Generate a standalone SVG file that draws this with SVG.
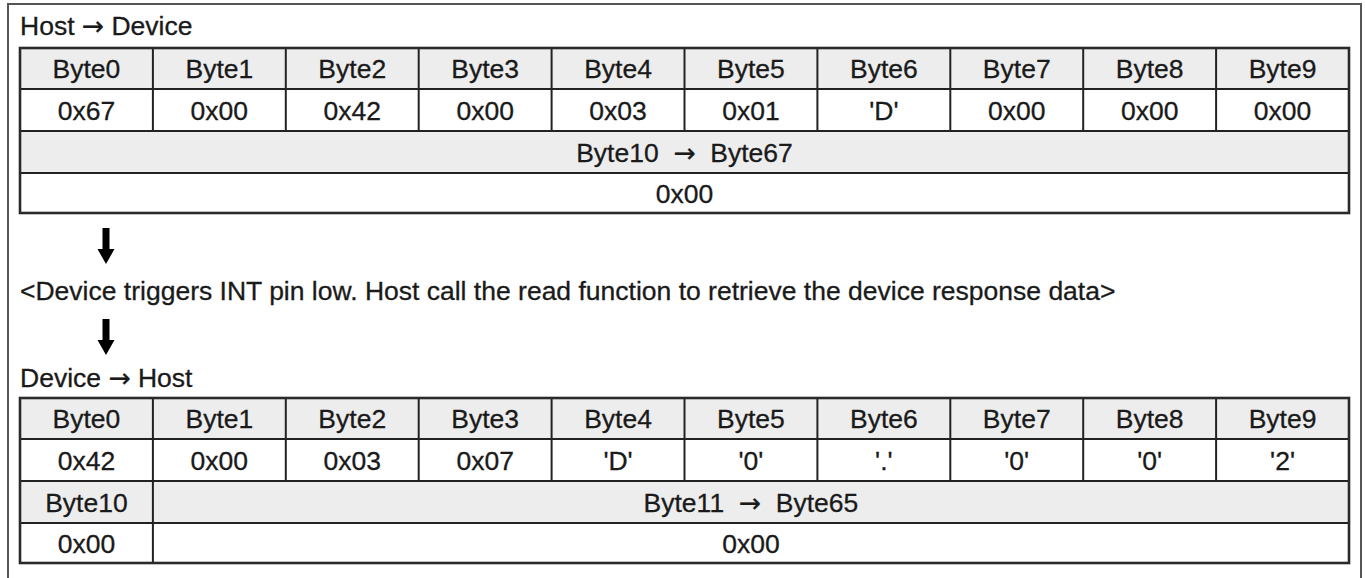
<svg xmlns="http://www.w3.org/2000/svg" xmlns:xlink="http://www.w3.org/1999/xlink" width="1365" height="578" viewBox="0 0 1365 578">
<style>
text{font-family:"Liberation Sans",Arial,sans-serif;font-size:26.5px;fill:#1a1a1a;stroke:#1a1a1a;stroke-width:0.3}
.c{text-anchor:middle}
.ar{font-family:"DejaVu Sans",sans-serif}
.hd{fill:#ededed}
.bd{fill:#ffffff}
.ln{stroke:#222;stroke-width:2;fill:none}
.ob{stroke:#2a2a2a;stroke-width:2.6;fill:none}
.frame{stroke:#555;stroke-width:2;fill:#fff}
</style>
<defs>
<path id="darrow" d="M102.5 0 H109.5 V21 H114.5 L106 36 L97.5 21 H102.5 Z" fill="#000"/>
</defs>
<rect class="frame" x="8" y="4" width="1353" height="600"/>

<g id="label-host-device"><text x="20" y="35">Host <tspan class="ar">→</tspan> Device</text></g>

<g id="table-host-device">
<rect class="hd" x="20" y="48" width="1329" height="41"/>
<rect class="bd" x="20" y="89" width="1329" height="42"/>
<rect class="hd" x="20" y="131" width="1329" height="42"/>
<rect class="bd" x="20" y="173" width="1329" height="40"/>
<g class="ln">
<line x1="20" y1="89" x2="1349" y2="89"/>
<line x1="20" y1="131" x2="1349" y2="131"/>
<line x1="20" y1="173" x2="1349" y2="173"/>
<line x1="152.9" y1="48" x2="152.9" y2="131"/>
<line x1="285.8" y1="48" x2="285.8" y2="131"/>
<line x1="418.7" y1="48" x2="418.7" y2="131"/>
<line x1="551.6" y1="48" x2="551.6" y2="131"/>
<line x1="684.5" y1="48" x2="684.5" y2="131"/>
<line x1="817.4" y1="48" x2="817.4" y2="131"/>
<line x1="950.3" y1="48" x2="950.3" y2="131"/>
<line x1="1083.2" y1="48" x2="1083.2" y2="131"/>
<line x1="1216.1" y1="48" x2="1216.1" y2="131"/>
</g>
<rect class="ob" x="20" y="48" width="1329" height="165"/>
<text class="c" x="86.45" y="77.5">Byte0</text>
<text class="c" x="219.35" y="77.5">Byte1</text>
<text class="c" x="352.25" y="77.5">Byte2</text>
<text class="c" x="485.15" y="77.5">Byte3</text>
<text class="c" x="618.05" y="77.5">Byte4</text>
<text class="c" x="750.95" y="77.5">Byte5</text>
<text class="c" x="883.85" y="77.5">Byte6</text>
<text class="c" x="1016.75" y="77.5">Byte7</text>
<text class="c" x="1149.65" y="77.5">Byte8</text>
<text class="c" x="1282.55" y="77.5">Byte9</text>
<text class="c" x="86.45" y="119.5">0x67</text>
<text class="c" x="219.35" y="119.5">0x00</text>
<text class="c" x="352.25" y="119.5">0x42</text>
<text class="c" x="485.15" y="119.5">0x00</text>
<text class="c" x="618.05" y="119.5">0x03</text>
<text class="c" x="750.95" y="119.5">0x01</text>
<text class="c" x="883.85" y="119.5">'D'</text>
<text class="c" x="1016.75" y="119.5">0x00</text>
<text class="c" x="1149.65" y="119.5">0x00</text>
<text class="c" x="1282.55" y="119.5">0x00</text>
<text class="c" x="684.5" y="161.5" xml:space="preserve">Byte10  <tspan class="ar">→</tspan>  Byte67</text>
<text class="c" x="684.5" y="202.5">0x00</text>
</g>

<g id="connectors">
<use xlink:href="#darrow" y="228"/>
<use xlink:href="#darrow" y="319"/>
</g>

<g id="label-interrupt"><text x="20" y="300">&lt;Device triggers INT pin low. Host call the read function to retrieve the device response data&gt;</text></g>

<g id="label-device-host"><text x="20" y="387">Device <tspan class="ar">→</tspan> Host</text></g>

<g id="table-device-host">
<rect class="hd" x="20" y="398" width="1329" height="41"/>
<rect class="bd" x="20" y="439" width="1329" height="42"/>
<rect class="hd" x="20" y="481" width="1329" height="42"/>
<rect class="bd" x="20" y="523" width="1329" height="40"/>
<g class="ln">
<line x1="20" y1="439" x2="1349" y2="439"/>
<line x1="20" y1="481" x2="1349" y2="481"/>
<line x1="20" y1="523" x2="1349" y2="523"/>
<line x1="152.9" y1="398" x2="152.9" y2="563"/>
<line x1="285.8" y1="398" x2="285.8" y2="481"/>
<line x1="418.7" y1="398" x2="418.7" y2="481"/>
<line x1="551.6" y1="398" x2="551.6" y2="481"/>
<line x1="684.5" y1="398" x2="684.5" y2="481"/>
<line x1="817.4" y1="398" x2="817.4" y2="481"/>
<line x1="950.3" y1="398" x2="950.3" y2="481"/>
<line x1="1083.2" y1="398" x2="1083.2" y2="481"/>
<line x1="1216.1" y1="398" x2="1216.1" y2="481"/>
</g>
<rect class="ob" x="20" y="398" width="1329" height="165"/>
<text class="c" x="86.45" y="427.5">Byte0</text>
<text class="c" x="219.35" y="427.5">Byte1</text>
<text class="c" x="352.25" y="427.5">Byte2</text>
<text class="c" x="485.15" y="427.5">Byte3</text>
<text class="c" x="618.05" y="427.5">Byte4</text>
<text class="c" x="750.95" y="427.5">Byte5</text>
<text class="c" x="883.85" y="427.5">Byte6</text>
<text class="c" x="1016.75" y="427.5">Byte7</text>
<text class="c" x="1149.65" y="427.5">Byte8</text>
<text class="c" x="1282.55" y="427.5">Byte9</text>
<text class="c" x="86.45" y="469.5">0x42</text>
<text class="c" x="219.35" y="469.5">0x00</text>
<text class="c" x="352.25" y="469.5">0x03</text>
<text class="c" x="485.15" y="469.5">0x07</text>
<text class="c" x="618.05" y="469.5">'D'</text>
<text class="c" x="750.95" y="469.5">'0'</text>
<text class="c" x="883.85" y="469.5">'.'</text>
<text class="c" x="1016.75" y="469.5">'0'</text>
<text class="c" x="1149.65" y="469.5">'0'</text>
<text class="c" x="1282.55" y="469.5">'2'</text>
<text class="c" x="86.45" y="511.5">Byte10</text>
<text class="c" x="750.95" y="511.5" xml:space="preserve">Byte11  <tspan class="ar">→</tspan>  Byte65</text>
<text class="c" x="86.45" y="552.5">0x00</text>
<text class="c" x="750.95" y="552.5">0x00</text>
</g>
</svg>
